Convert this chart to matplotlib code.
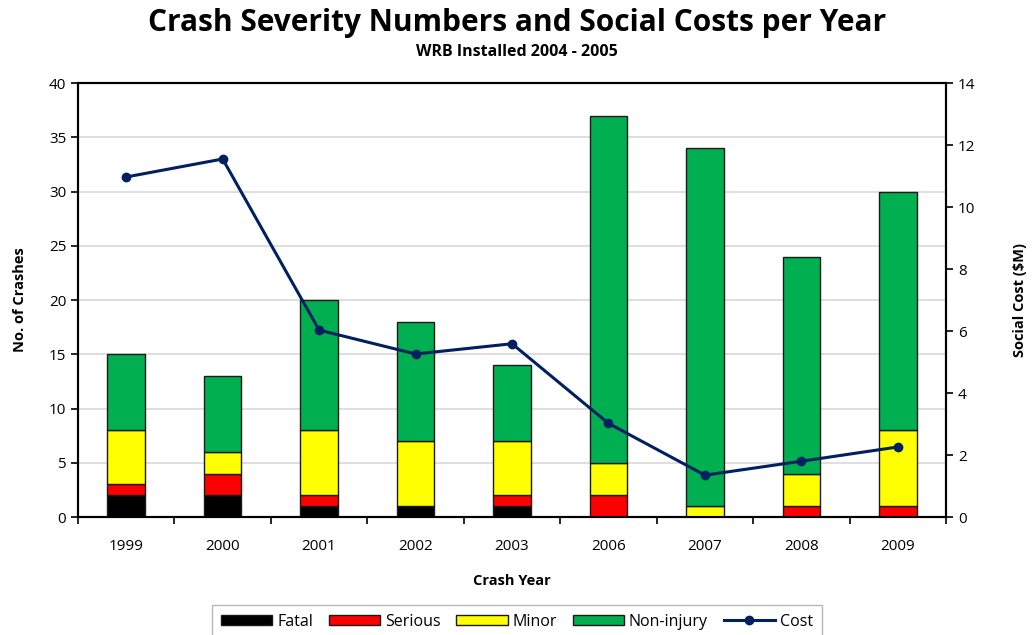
import matplotlib
matplotlib.use("Agg")
import matplotlib.pyplot as plt
import numpy as np
from matplotlib.lines import Line2D
from matplotlib.patches import Patch

years = ["1999", "2000", "2001", "2002", "2003", "2006", "2007", "2008", "2009"]
fatal = [2, 2, 1, 1, 1, 0, 0, 0, 0]
serious = [1, 2, 1, 0, 1, 2, 0, 1, 1]
minor = [5, 2, 6, 6, 5, 3, 1, 3, 7]
non_injury = [7, 7, 12, 11, 7, 32, 33, 20, 22]
cost = [10.97, 11.55, 6.03, 5.26, 5.59, 3.02, 1.35, 1.80, 2.26]

plt.rcParams['font.family'] = ['Open Sans', 'DejaVu Sans']

fig = plt.figure(figsize=(10.34, 6.35), dpi=100)
ax = fig.add_axes([0.0754, 0.1858, 0.8396, 0.6834])
ax2 = ax.twinx()

x = np.arange(len(years))
w = 0.39
series = [("Fatal", fatal, "#000000"), ("Serious", serious, "#ff0000"),
          ("Minor", minor, "#ffff00"), ("Non-injury", non_injury, "#00b050")]
bottom = np.zeros(len(years))
for name, vals, col in series:
    ax.bar(x, vals, w, bottom=bottom, color=col, edgecolor="#1a1a1a", linewidth=1.0, zorder=3)
    bottom += np.array(vals)

ax.set_xlim(-0.5, len(years) - 0.5)
ax.set_ylim(0, 40)
ax.set_yticks(range(0, 41, 5))
ax.yaxis.grid(True, color="#d9d9d9", linewidth=1.2, zorder=0)
ax.set_axisbelow(True)
ax.set_xticks(x)
ax.set_xticklabels(years, fontsize=11)
ax.set_xticks(np.arange(-0.5, len(years), 1), minor=True)
ax.tick_params(axis="x", which="major", length=0, pad=16)
ax.tick_params(axis="x", which="minor", length=5, width=1.2, direction="out")
ax.tick_params(axis="y", labelsize=11, length=5, width=1.2, direction="out")
for s in ax.spines.values():
    s.set_linewidth(1.5)
    s.set_color("black")

ax2.plot(x, cost, color="#002060", linewidth=2.2, marker="o", markersize=6, zorder=5)
ax2.set_ylim(0, 14)
ax2.set_yticks(range(0, 15, 2))
ax2.tick_params(axis="y", labelsize=11, length=5, width=1.2, direction="out")
for s in ax2.spines.values():
    s.set_linewidth(1.5)

ax.set_ylabel("No. of Crashes", fontsize=10.5, fontweight="bold", labelpad=16)
ax2.set_ylabel("Social Cost ($M)", fontsize=10.5, fontweight="bold", labelpad=27)
ax.set_xlabel("Crash Year", fontsize=10.5, fontweight="bold", labelpad=14)

fig.text(0.5, 0.963, "Crash Severity Numbers and Social Costs per Year", ha="center", va="center",
         fontsize=21.5, fontweight="bold")
fig.text(0.5, 0.918, "WRB Installed 2004 - 2005", ha="center", va="center",
         fontsize=11.5, fontweight="bold")

handles = [Patch(facecolor=c, edgecolor="#1a1a1a", label=n) for n, _, c in series]
handles.append(Line2D([0], [0], color="#002060", linewidth=2.2, marker="o", markersize=6, label="Cost"))
leg = fig.legend(handles=handles, loc="lower center", bbox_to_anchor=(0.5, -0.018), ncol=5,
                 frameon=True, fancybox=False, fontsize=11.5, handlelength=3.2, handleheight=0.6,
                 columnspacing=1.0, handletextpad=0.3, borderpad=0.55)
leg.get_frame().set_edgecolor("#a6a6a6")
leg.get_frame().set_linewidth(1.0)

fig.savefig("out.png", dpi=100)
